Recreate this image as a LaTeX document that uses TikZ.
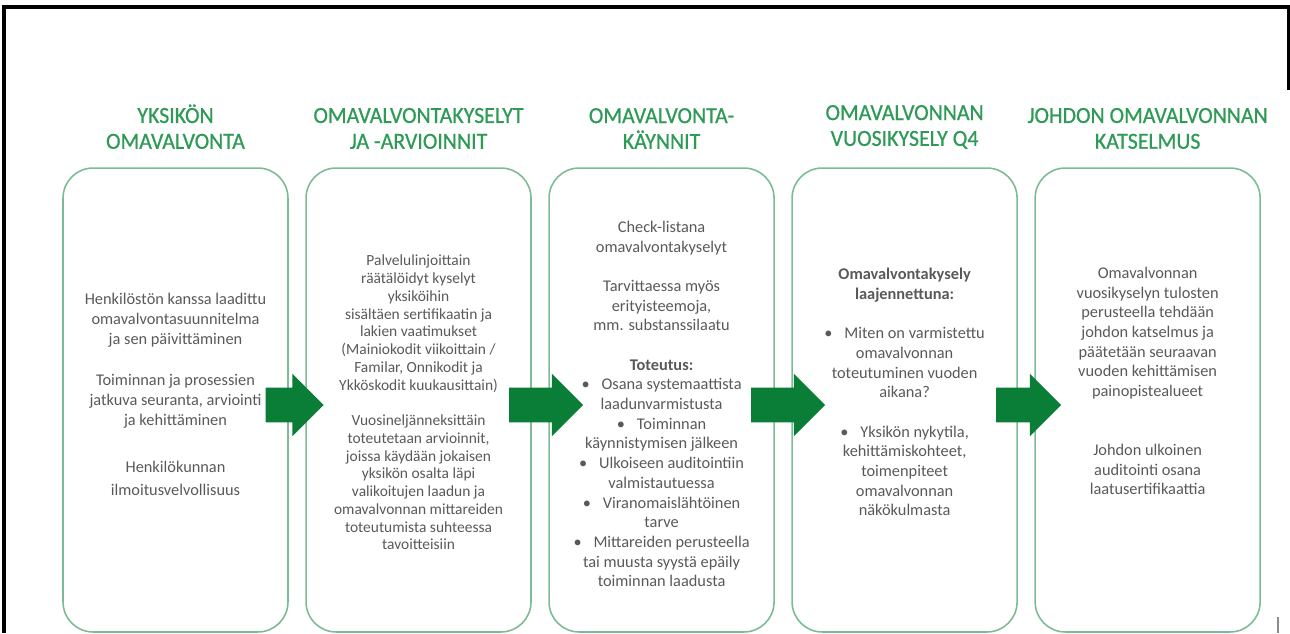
\documentclass[tikz,border=0pt]{standalone}
\usepackage{fontspec}
\setmainfont{Carlito}
\newfontfamily\headfont[FakeStretch=0.95,FakeBold=0.7]{Carlito}
\usepackage{xcolor}
\usetikzlibrary{positioning}
\usetikzlibrary{shapes.arrows}
\usetikzlibrary{calc}

\definecolor{titlegreen}{HTML}{2E9A56}
\definecolor{arrowgreen}{HTML}{0A7D36}
\definecolor{boxgreen}{HTML}{7CBB96}
\definecolor{textgray}{HTML}{595959}

\begin{document}
\begin{tikzpicture}[
  x=0.02cm, y=-0.02cm,
  phase/.style={draw=boxgreen, line width=0.9pt, rounded corners=0.6cm, minimum width=4.5cm, minimum height=9.28cm},
  heading/.style={text=titlegreen, align=center, inner sep=0pt, font=\headfont\fontsize{13.1}{14.7}\selectfont},
  body/.style={text=textgray, align=center, inner sep=0pt, font=\fontsize{9.3}{11.2}\selectfont},
  smallbody/.style={body, font=\fontsize{8.8}{10.1}\selectfont},
  flow/.style={single arrow, fill=arrowgreen, inner xsep=0pt, inner ysep=0.34cm, single arrow head extend=0.28cm, anchor=tail},
  frame/.style={line width=1.9pt, black}
]
\useasboundingbox (0,0) rectangle (1290,633);

% frame
\draw[frame] (4,633) -- (4,7) -- (1290,7);
\draw[frame] (1289,7) -- (1289,90);
\draw[black!45, line width=0.6pt] (1278,617) -- (1278,633);

% phases
\node[phase] (b1) at (175.5,400) {};
\node[phase, right=0.33cm of b1] (b2) {};
\node[phase, right=0.33cm of b2] (b3) {};
\node[phase, right=0.33cm of b3] (b4) {};
\node[phase, right=0.33cm of b4] (b5) {};

\node[heading, above=0.36cm of b1] (h1) {YKSIKÖN\\OMAVALVONTA};
\node[heading, above=0.36cm of b2] (h2) {OMAVALVONTAKYSELYT\\JA -ARVIOINNIT};
\node[heading, above=0.36cm of b3] (h3) {OMAVALVONTA-\\KÄYNNIT};
\node[heading, above=0.36cm of b4] (h4) {OMAVALVONNAN\\VUOSIKYSELY Q4};
\node[heading, above=0.36cm of b5] (h5) {JOHDON OMAVALVONNAN\\KATSELMUS};

\node[body] (p1) at ([yshift=0.11cm]b1.center) {Henkilöstön kanssa laadittu\\omavalvontasuunnitelma\\ja sen päivittäminen\\[12.5pt]
  Toiminnan ja prosessien\\jatkuva seuranta, arviointi\\ja kehittäminen\\[15.9pt]
  Henkilökunnan\\[1.8pt]ilmoitusvelvollisuus};

\node[smallbody] (p2) at ([yshift=-0.05cm]b2.center) {Palvelulinjoittain\\räätälöidyt kyselyt\\yksiköihin\\sisältäen sertifikaatin ja\\lakien vaatimukset\\(Mainiokodit viikoittain /\\Familar, Onnikodit ja\\Ykköskodit kuukausittain)\\[10.1pt]
  Vuosineljänneksittäin\\toteutetaan arvioinnit,\\joissa käydään jokaisen\\yksikön osalta läpi\\valikoitujen laadun ja\\omavalvonnan mittareiden\\toteutumista suhteessa\\tavoitteisiin};

\node[body] (p3) at ([yshift=-0.08cm]b3.center) {Check-listana\\omavalvontakyselyt\\[11.2pt]
  Tarvittaessa myös\\erityisteemoja,\\mm. substanssilaatu\\[11.2pt]
  \textbf{Toteutus:}\\
  \textbullet\enspace\ Osana systemaattista\\laadunvarmistusta\\
  \textbullet\enspace\ Toiminnan\\käynnistymisen jälkeen\\
  \textbullet\enspace\ Ulkoiseen auditointiin\\valmistautuessa\\
  \textbullet\enspace\ Viranomaislähtöinen\\tarve\\
  \textbullet\enspace\ Mittareiden perusteella\\tai muusta syystä epäily\\toiminnan laadusta};

\node[body] (p4) at ([yshift=0.16cm]b4.center) {\textbf{Omavalvontakysely}\\\textbf{laajennettuna:}\\[11.2pt]
  \textbullet\enspace\ Miten on varmistettu\\omavalvonnan\\toteutuminen vuoden\\aikana?\\[11.2pt]
  \textbullet\enspace\ Yksikön nykytila,\\kehittämiskohteet,\\toimenpiteet\\omavalvonnan\\näkökulmasta};

\node[body] (p5) at ([yshift=0.38cm]b5.center) {Omavalvonnan\\vuosikyselyn tulosten\\perusteella tehdään\\johdon katselmus ja\\päätetään seuraavan\\vuoden kehittämisen\\painopistealueet\\[22.4pt]
  Johdon ulkoinen\\auditointi osana\\laatusertifikaattia};

% flow arrows between phases
\node[flow, minimum height=1.16cm] (a1) at ([xshift=-0.47cm, yshift=-0.1cm]b1.east) {};
\node[flow, minimum height=1.48cm] (a2) at ([xshift=-0.46cm, yshift=-0.1cm]b2.east) {};
\node[flow, minimum height=1.48cm] (a3) at ([xshift=-0.48cm, yshift=-0.1cm]b3.east) {};
\node[flow, minimum height=1.3cm] (a4) at ([xshift=-0.44cm, yshift=-0.1cm]b4.east) {};

\end{tikzpicture}
\end{document}
